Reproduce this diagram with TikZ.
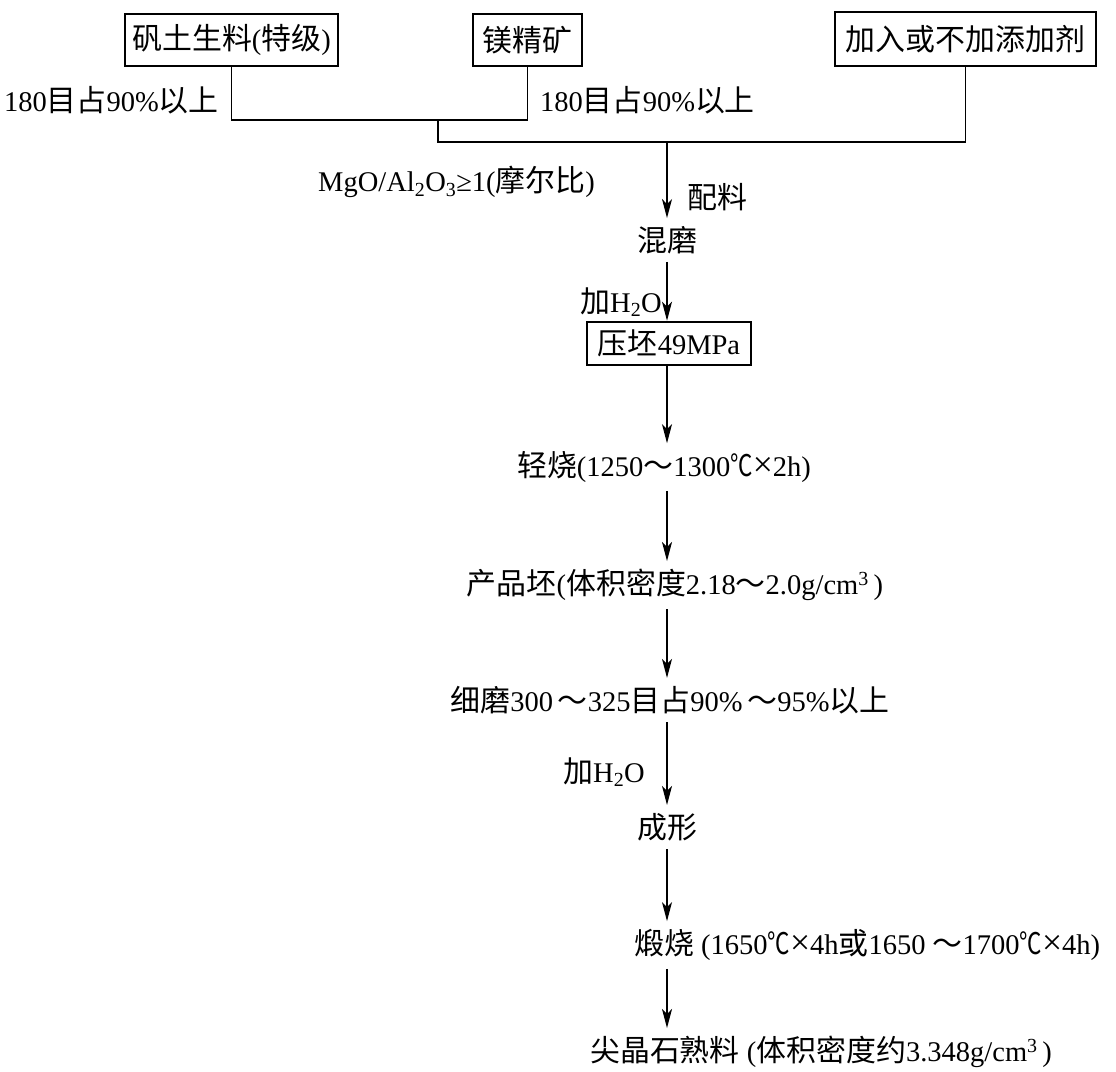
\documentclass[tikz,border=0pt]{standalone}
\usepackage{fontspec}
\setmainfont{Liberation Serif}
\newfontfamily\zhfont{Noto Sans CJK SC}[Scale=1.05]
\newcommand\zh[1]{{\zhfont #1}}
\newcommand\degc{\scalebox{0.75}[1]{\zhfont ℃}}
\newcommand\tms{\scalebox{1.25}{×}}
\usetikzlibrary{arrows.meta}
\begin{document}
\begin{tikzpicture}[x=1pt,y=-1pt,
  every node/.style={font=\fontsize{28.5}{33}\selectfont, inner xsep=0pt, inner ysep=8pt},
  boxnode/.style={draw, line width=2.6pt, inner sep=0pt},
  conn/.style={line width=1.3pt},
  arr/.style={line width=1.3pt, -{Stealth[length=19pt,width=10pt,inset=5pt]}}]
\useasboundingbox (0,0) rectangle (1116,1071);
\fill[white] (0,0) rectangle (1116,1071);
% top boxes
\node[boxnode, minimum width=213pt, minimum height=52pt] (b1) at (231.5,40) {\zh{矾土生料}(\zh{特级})};
\node[boxnode, minimum width=109pt, minimum height=52pt] (b2) at (527.5,40) {\zh{镁精矿}};
\node[boxnode, minimum width=261pt, minimum height=54pt] (b3) at (965.5,39) {\zh{加入或不加添加剂}};
\node[anchor=east] (l1) at (219,100) {180\zh{目占}90\%\zh{以上}};
\node[anchor=west] (l2) at (540,100) {180\zh{目占}90\%\zh{以上}};
\coordinate (j1) at (438,120);
\coordinate (j2) at (667,142);
\draw[conn] (b1.south) |- (j1) -| (b2.south);
\draw[conn] (j1) |- (j2) -| (b3.south);
% chain
\node[anchor=west] (ratio) at (318,182) {MgO/Al\textsubscript{2}O\textsubscript{3}≥1(\zh{摩尔比})};
\node[anchor=west] (pl) at (687,197) {\zh{配料}};
\node (mix) at (667,240) {\zh{混磨}};
\node[anchor=east] (w1) at (662,302) {\zh{加}H\textsubscript{2}O};
\node[boxnode, minimum width=164pt, minimum height=43pt] (press) at (669,343.5) {\zh{压坯}49MPa};
\node (light) at (664,467) {\zh{轻烧}(1250\zh{～}1300\degc\tms2h)};
\node (green) at (675,585) {\zh{产品坯}(\zh{体积密度}2.18\zh{～}2.0g/cm\textsuperscript{3}\,)};
\node (fine) at (670,700) {\zh{细磨}300\,\zh{～}325\zh{目占}90\%\,\zh{～}95\%\zh{以上}};
\node[anchor=east] (w2) at (645,772) {\zh{加}H\textsubscript{2}O};
\node (form) at (667,827) {\zh{成形}};
\node[anchor=west] (calc) at (634,945) {\zh{煅烧} (1650\degc\tms4h\zh{或}1650 \zh{～}1700\degc\tms4h)};
\node[anchor=west] (final) at (590,1052) {\zh{尖晶石熟料} (\zh{体积密度约}3.348g/cm\textsuperscript{3}\,)};
% arrows
\draw[arr] (j2) -- (j2 |- mix.north);
\draw[arr] (mix.south) -- (mix.south |- press.north);
\draw[arr] (press.south -| mix) -- (light.north -| mix);
\draw[arr] (light.south -| mix) -- (green.north -| mix);
\draw[arr] (green.south -| mix) -- (fine.north -| mix);
\draw[arr] (fine.south -| mix) -- (form.north -| mix);
\draw[arr] (form.south) -- (form.south |- calc.north);
\draw[arr] (calc.south -| form) -- (final.north -| form);
\end{tikzpicture}
\end{document}
